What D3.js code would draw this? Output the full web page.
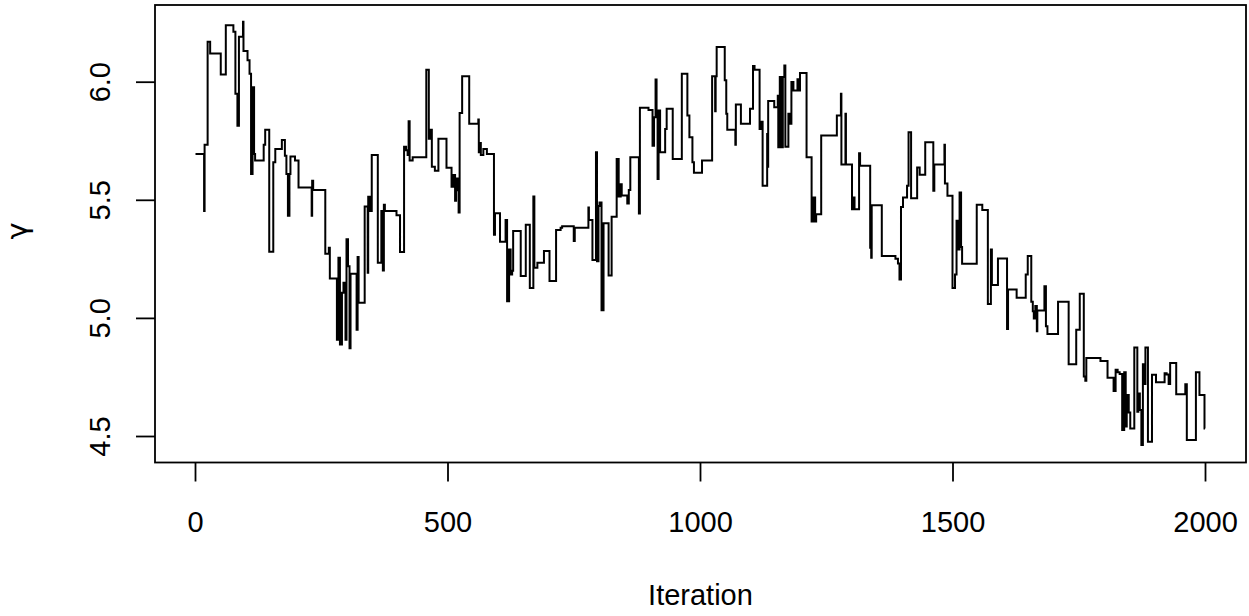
<!DOCTYPE html>
<html>
<head>
<meta charset="utf-8">
<script src="https://cdn.jsdelivr.net/npm/d3@7"></script>
<style>
  html, body { margin: 0; padding: 0; background: #ffffff; }
  svg { display: block; }
  text { font-family: "Liberation Sans", Arial, Helvetica, sans-serif; fill: #000; }
</style>
</head>
<body>
<svg id="chart" width="1249" height="616"></svg>
<script>
// ---- data: MCMC trace of gamma, stored as change points (iteration, value) ----
const iterations = [
  1, 18, 19, 25, 30, 51, 61, 76, 80, 84, 87, 95, 96, 104, 108, 111, 114, 117, 119, 136,
  139, 147, 155, 159, 172, 178, 181, 184, 187, 189, 198, 205, 231, 232, 234,
  258, 265, 267, 281, 284, 287, 291, 294, 298, 300, 303, 306, 308, 320, 322, 324, 336, 342, 343, 346,
  350, 362, 369, 372, 374, 376, 399, 406, 414, 418, 421, 423, 425, 431, 458, 463, 466, 469, 475, 482, 498,
  508, 512, 515, 517, 520, 522, 524, 529, 543, 561, 562, 565, 566, 571, 578, 592, 594, 604, 615, 618,
  622, 625, 628, 630, 645, 655, 663, 670, 672, 678, 691, 702, 715, 724, 727,
  750, 752, 779, 780, 787, 794, 796, 799, 801, 805, 809, 819, 825, 835, 839, 843, 845, 856, 859, 862,
  879, 881, 898, 906, 909, 912, 914, 916, 918, 921, 931, 934, 946, 964, 975, 979, 985, 988,
  1004, 1024, 1030, 1031, 1033, 1049, 1052, 1054, 1070, 1071, 1081, 1099, 1105, 1108, 1118, 1122, 1124,
  1133, 1134, 1135, 1147, 1154, 1155, 1158, 1160, 1164, 1167, 1169, 1175, 1178, 1181, 1185, 1193, 1196,
  1198, 1211, 1221, 1225, 1228, 1230, 1240,
  1271, 1279, 1280, 1288, 1289, 1301, 1304, 1306, 1315, 1317, 1337, 1339, 1340, 1360, 1387, 1392, 1395,
  1398, 1402, 1410, 1413, 1418, 1430, 1435, 1446, 1462, 1464, 1484, 1485, 1490, 1500, 1505, 1508, 1510, 1514,
  1517, 1519, 1548, 1559, 1570, 1576, 1578, 1590, 1608, 1610, 1627, 1645, 1649, 1656, 1659, 1661, 1664,
  1667, 1668, 1682, 1685, 1688, 1709, 1730, 1745, 1752,
  1760, 1763, 1765, 1793, 1807, 1819, 1823, 1827, 1831, 1836, 1840, 1843, 1845, 1849, 1852, 1860, 1866,
  1868, 1871, 1874, 1877, 1879, 1882, 1887, 1895, 1903, 1920, 1924, 1928, 1931, 1943, 1961, 1964, 1982,
  1989, 1999, 2000
];
const gammaValues = [
  5.694, 5.453, 5.733, 6.169, 6.119, 6.030, 6.239, 6.211, 5.949, 5.814, 6.190, 6.254, 6.130, 6.091, 6.034, 5.609, 5.977, 5.694, 5.666, 5.733,
  5.797, 5.280, 5.659, 5.715, 5.753, 5.687, 5.609, 5.432, 5.609, 5.683, 5.666, 5.552, 5.432, 5.581, 5.542,
  5.272, 5.297, 5.167, 4.908, 5.255, 4.887, 5.106, 5.149, 4.908, 5.333, 5.219, 4.872, 5.187, 4.950, 5.258, 5.064, 5.472, 5.191, 5.513, 5.453,
  5.690, 5.234, 5.453, 5.201, 5.479, 5.453, 5.435, 5.279, 5.725, 5.710, 5.690, 5.833, 5.666, 5.680, 6.051, 5.758, 5.797, 5.640, 5.623, 5.758, 5.636,
  5.555, 5.605, 5.496, 5.590, 5.540, 5.446, 5.867, 6.023, 5.822, 5.840, 5.701, 5.740, 5.690, 5.715, 5.694, 5.352, 5.443, 5.322, 5.414, 5.071,
  5.290, 5.184, 5.200, 5.368, 5.177, 5.394, 5.127, 5.514, 5.212, 5.234, 5.283, 5.156, 5.372, 5.382, 5.388,
  5.326, 5.382, 5.467, 5.415, 5.245, 5.701, 5.240, 5.474, 5.489, 5.032, 5.401, 5.180, 5.428, 5.673, 5.514, 5.566, 5.518, 5.484, 5.542, 5.680,
  5.442, 5.890, 5.880, 5.729, 5.850, 6.009, 5.870, 5.588, 5.878, 5.701, 5.800, 5.885, 5.673, 6.034, 5.857, 5.765, 5.659, 5.615,
  5.666, 6.023, 5.875, 6.023, 6.147, 6.006, 5.864, 5.797, 5.733, 5.904, 5.822, 5.885, 6.067, 6.051, 5.800, 5.830, 5.559,
  5.779, 5.640, 5.918, 5.892, 5.940, 5.722, 6.020, 5.722, 6.020, 6.069, 5.725, 5.864, 5.822, 5.999, 5.963, 6.010, 5.963,
  6.037, 5.680, 5.408, 5.510, 5.408, 5.439, 5.772,
  5.857, 5.949, 5.649, 5.864, 5.649, 5.460, 5.510, 5.460, 5.697, 5.644, 5.297, 5.255, 5.477, 5.262, 5.250, 5.230, 5.163,
  5.470, 5.510, 5.559, 5.786, 5.507, 5.637, 5.606, 5.744, 5.538, 5.649, 5.733, 5.569, 5.517, 5.127, 5.184, 5.411, 5.290, 5.531,
  5.300, 5.229, 5.479, 5.457, 5.059, 5.290, 5.139, 5.252, 4.953, 5.120, 5.085, 5.184, 5.262, 5.068, 5.028, 4.997, 5.050,
  4.943, 5.031, 5.134, 4.965, 4.932, 5.068, 4.804, 4.950, 5.102,
  4.752, 4.734, 4.830, 4.818, 4.747, 4.691, 4.780, 4.770, 4.762, 4.525, 4.770, 4.540, 4.674, 4.600, 4.532, 4.875, 4.603,
  4.680, 4.610, 4.462, 4.804, 4.720, 4.875, 4.476, 4.759, 4.728, 4.766, 4.760, 4.720, 4.809, 4.677, 4.719, 4.483, 4.770,
  4.674, 4.532, 4.532
];
const xTicks = [0, 500, 1000, 1500, 2000];
const yTicks = [4.5, 5.0, 5.5, 6.0];
const xLabel = "Iteration";
const yLabel = "γ";

// ---- layout ----
const box = { left: 155, right: 1246, top: 5, bottom: 462.5 };
const fontSize = 29;
const tickLen = 19;

const svg = d3.select("#chart");

const x = d3.scaleLinear().domain([0, 2000]).range([195, 1205]);
const y = d3.scaleLinear().domain([4.5, 6.0]).range([436, 81.7]);

const series = iterations.map((it, i) => ({ it, v: gammaValues[i] }));

// trace line
const line = d3.line()
  .x(d => x(d.it))
  .y(d => y(d.v))
  .curve(d3.curveStepAfter);

svg.append("path")
  .datum(series)
  .attr("fill", "none")
  .attr("stroke", "#000")
  .attr("stroke-width", 2)
  .attr("stroke-linejoin", "miter")
  .attr("d", line);

// plot box
svg.append("rect")
  .attr("x", box.left).attr("y", box.top)
  .attr("width", box.right - box.left)
  .attr("height", box.bottom - box.top)
  .attr("fill", "none").attr("stroke", "#000").attr("stroke-width", 1.8);

// x axis
const gx = svg.append("g")
  .attr("transform", `translate(0,${box.bottom})`)
  .call(d3.axisBottom(x).tickValues(xTicks).tickSize(tickLen).tickFormat(d3.format("d")));
gx.select(".domain").remove();
gx.selectAll(".tick line").attr("stroke", "#000").attr("stroke-width", 1.8);
gx.selectAll(".tick text")
  .attr("font-size", fontSize)
  .attr("font-family", "Liberation Sans, Arial, sans-serif")
  .attr("fill", "#000")
  .attr("y", 69).attr("dy", 0);

// y axis
const gy = svg.append("g")
  .attr("transform", `translate(${box.left},0)`)
  .call(d3.axisLeft(y).tickValues(yTicks).tickSize(tickLen).tickFormat(d3.format(".1f")));
gy.select(".domain").remove();
gy.selectAll(".tick line").attr("stroke", "#000").attr("stroke-width", 1.8);
gy.selectAll(".tick text")
  .attr("font-size", fontSize)
  .attr("font-family", "Liberation Sans, Arial, sans-serif")
  .attr("fill", "#000")
  .attr("text-anchor", "middle")
  .attr("transform", "rotate(-90)")
  .attr("x", 0).attr("y", -45).attr("dy", 0);

// axis titles
svg.append("text")
  .attr("x", (box.left + box.right) / 2)
  .attr("y", 605)
  .attr("text-anchor", "middle")
  .attr("font-size", fontSize)
  .text(xLabel);

svg.append("text")
  .attr("transform", "translate(27,231) rotate(-90)")
  .attr("text-anchor", "middle")
  .attr("font-size", fontSize)
  .style("font-family", "'DejaVu Sans', 'Liberation Sans', sans-serif")
  .text(yLabel);
</script>
</body>
</html>
